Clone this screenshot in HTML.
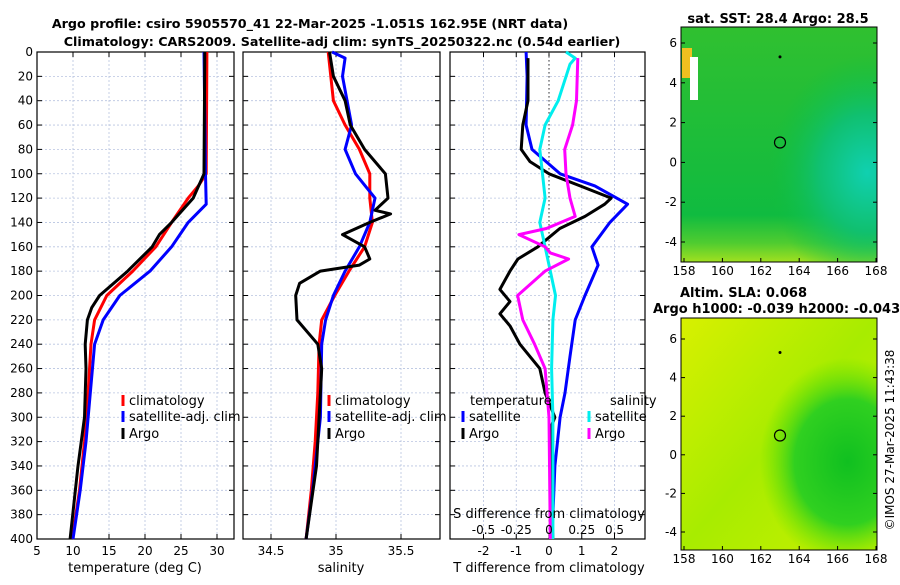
<!DOCTYPE html>
<html><head><meta charset="utf-8"><style>
body{margin:0;background:#fff;width:900px;height:580px;overflow:hidden}
svg{font-family:"DejaVu Sans","Liberation Sans",sans-serif}
</style></head><body>
<svg id="s" width="900" height="580">
<defs>
<radialGradient id="sstTeal" cx="0.95" cy="0.62" r="0.5"><stop offset="0" stop-color="#10d0b0"/><stop offset="0.5" stop-color="#10c070"/><stop offset="1" stop-color="#10c040" stop-opacity="0"/></radialGradient>
<linearGradient id="sstBase" x1="0" y1="0" x2="0" y2="1"><stop offset="0" stop-color="#30c030"/><stop offset="0.8" stop-color="#10bb40"/><stop offset="0.92" stop-color="#50cc30"/><stop offset="1" stop-color="#a0e020"/></linearGradient>
<linearGradient id="slaBase" x1="0" y1="0" x2="1" y2="1"><stop offset="0" stop-color="#d8f000"/><stop offset="0.5" stop-color="#a8ec00"/><stop offset="1" stop-color="#c8f000"/></linearGradient>
<radialGradient id="slaGreen" cx="0.85" cy="0.62" r="0.45"><stop offset="0" stop-color="#10c020"/><stop offset="0.6" stop-color="#30d020"/><stop offset="1" stop-color="#60e000" stop-opacity="0"/></radialGradient>
</defs>
<text x="310" y="28" font-size="12.7" font-weight="bold" text-anchor="middle">Argo profile: csiro 5905570_41 22-Mar-2025 -1.051S 162.95E (NRT data)</text>
<text x="342" y="46" font-size="12.7" font-weight="bold" text-anchor="middle">Climatology: CARS2009. Satellite-adj clim: synTS_20250322.nc (0.54d earlier)</text>
<g id="g"></g>
</svg>
<script>
// ---- data ----
const tClimD=[0,100,110,120,140,160,180,200,220,240,280,320,360,400];
const tClimV=[28.6,28.5,27.4,26,23.7,21.5,18.3,14.7,13,12.5,12.1,11.6,10.9,9.9];
const tSatD=[0,100,125,140,160,180,200,220,240,280,320,360,400];
const tSatV=[28.2,28.4,28.5,26,23.7,20.7,16.5,14.2,13,12.4,11.8,11,10];
const tArgoD=[0,100,120,140,150,160,180,200,210,220,240,260,300,340,400];
const tArgoV=[28.3,28.2,26.7,23.7,22,21,17.6,13.7,12.6,12,11.7,11.8,11.6,10.7,9.6];
const sClimD=[0,40,60,80,100,120,140,160,180,200,220,240,280,320,360,400];
const sClimV=[34.94,34.98,35.07,35.18,35.26,35.26,35.28,35.22,35.1,34.99,34.89,34.87,34.86,34.84,34.81,34.77];
const sSatD=[0,5,20,60,80,100,120,140,160,180,200,220,240,300,360,400];
const sSatV=[34.97,35.07,35.05,35.12,35.07,35.15,35.3,35.26,35.18,35.07,34.98,34.92,34.89,34.88,34.82,34.77];
const sArgoD=[0,20,40,60,80,100,120,130,133,140,150,160,170,175,180,190,200,220,240,260,300,340,400];
const sArgoV=[34.95,34.98,35.07,35.11,35.22,35.38,35.4,35.3,35.42,35.26,35.05,35.22,35.26,35.18,34.88,34.72,34.69,34.7,34.86,34.89,34.87,34.85,34.77];
const dTArgoD=[5,40,60,80,90,100,110,120,125,135,145,155,160,170,180,195,205,215,225,240,260,280,300,310,340,400];
const dTArgoV=[-0.64,-0.64,-0.8,-0.85,-0.58,0,0.95,1.9,1.7,1.1,0.33,-0.12,-0.34,-0.95,-1.19,-1.5,-1.19,-1.5,-1.19,-0.89,-0.28,-0.12,0.18,0.03,0.03,0.12];
const dTSatD=[0,20,60,80,100,110,125,140,160,175,200,220,250,280,300,340,400];
const dTSatV=[-0.7,-0.67,-0.7,-0.52,0.34,1.4,2.4,1.86,1.31,1.5,1.1,0.8,0.64,0.49,0.34,0.18,0.09];
const dSSatD=[0,5,10,40,60,80,100,120,140,160,180,200,220,260,300,400];
const dSSatV=[0.13,0.2,0.16,0.07,-0.03,-0.07,-0.05,-0.03,-0.07,-0.03,0.01,0.05,0.03,0.02,0.03,0.03];
const dSArgoD=[5,40,60,80,100,120,135,145,150,160,165,170,180,200,220,240,260,300,400];
const dSArgoV=[0.22,0.21,0.18,0.12,0.13,0.16,0.2,-0.02,-0.23,-0.03,0.01,0.15,-0.03,-0.24,-0.2,-0.11,-0.03,0,0.01];
const depthTicks=[0,20,40,60,80,100,120,140,160,180,200,220,240,260,280,300,320,340,360,380,400];
const tTicks=[5,10,15,20,25,30];
const sTicks=[34.5,35,35.5];
const dTTicks=[-2,-1,0,1,2];
const dSTicks=[-0.5,-0.25,0,0.25,0.5];
const latTicks=[-4,-2,0,2,4,6];
const lonTicks=[158,160,162,164,166,168];
// ---- helpers ----
const NS="http://www.w3.org/2000/svg",G=document.getElementById('g');
function mk(tag,at,parent){const e=document.createElementNS(NS,tag);for(const k in at)e.setAttribute(k,at[k]);(parent||G).appendChild(e);return e;}
const Y0=52,Y1=539;const yD=d=>Y0+d/400*(Y1-Y0);
const xT=v=>37+(v-5)*7.2;
const xS=v=>271+(v-34.5)*130;
const xDT=v=>549+v*32.75;
const xDS=v=>549+v*131;
function panel(x0,x1,name,xs,ticks,fmt,showDepth){
  const r=mk('rect',{x:x0,y:Y0,width:x1-x0,height:Y1-Y0,fill:'none',stroke:'#000','stroke-width':1.2});
  
  depthTicks.forEach(d=>{const y=yD(d);
    if(d>0&&d<400){const l=mk('line',{x1:x0,x2:x1,y1:y,y2:y,stroke:'#b8c4e0','stroke-width':0.8,'stroke-dasharray':'2,2'});}
    mk('line',{x1:x0,x2:x0+5,y1:y,y2:y,stroke:'#000'});mk('line',{x1:x1-5,x2:x1,y1:y,y2:y,stroke:'#000'});
    if(showDepth){const t=mk('text',{x:x0-4,y:y+4,'font-size':12,'text-anchor':'end'});t.textContent=d;}
  });
  ticks.forEach(v=>{const x=xs(v);
    if(x>x0+1&&x<x1-1){const l=mk('line',{x1:x,x2:x,y1:Y0,y2:Y1,stroke:'#b8c4e0','stroke-width':0.8,'stroke-dasharray':'2,2'});}
    mk('line',{x1:x,x2:x,y1:Y1-5,y2:Y1,stroke:'#000'});mk('line',{x1:x,x2:x,y1:Y0,y2:Y0+5,stroke:'#000'});
    if(fmt){const t=mk('text',{x:x,y:555,'font-size':12,'text-anchor':'middle'});t.textContent=fmt(v);}
  });
}
function line(D,V,xs,col,name){
  const p=D.map((d,i)=>xs(V[i]).toFixed(1)+','+yD(d).toFixed(1)).join(' ');
  const e=mk('polyline',{points:p,fill:'none',stroke:col,'stroke-width':3,'stroke-linejoin':'round'});
  
}
function txt(x,y,s,name,size,anchor,extra){const t=mk('text',Object.assign({x:x,y:y,'font-size':size||13,'text-anchor':anchor||'start'},extra||{}));t.textContent=s;return t;}
function leg(x,y,col,label,name){const l=mk('line',{x1:x,x2:x,y1:y-10,y2:y+1,stroke:col,'stroke-width':3});txt(x+6,y,label,name+'-label');}
// ---- panel 1 ----
panel(37,234,'temperature-panel',xT,tTicks,v=>v,true);
line(tClimD,tClimV,xT,'#ff0000','temp-climatology-line');
line(tSatD,tSatV,xT,'#0000ff','temp-satellite-line');
line(tArgoD,tArgoV,xT,'#000000','temp-argo-line');
txt(135,572,'temperature (deg C)','temperature-x-axis-title',13,'middle');
leg(123,405,'#ff0000','climatology','legend-climatology');
leg(123,421,'#0000ff','satellite-adj. clim','legend-satellite');
leg(123,438,'#000','Argo','legend-argo');
// ---- panel 2 ----
panel(243,440,'salinity-panel',xS,sTicks,v=>v,false);
line(sClimD,sClimV,xS,'#ff0000','sal-climatology-line');
line(sSatD,sSatV,xS,'#0000ff','sal-satellite-line');
line(sArgoD,sArgoV,xS,'#000000','sal-argo-line');
txt(341,572,'salinity','salinity-x-axis-title',13,'middle');
leg(329,405,'#ff0000','climatology','legend2-climatology');
leg(329,421,'#0000ff','satellite-adj. clim','legend2-satellite');
leg(329,438,'#000','Argo','legend2-argo');
// ---- panel 3 ----
panel(450,645,'difference-panel',xDT,dTTicks,v=>v,false);
const z=mk('line',{x1:549,x2:549,y1:Y0,y2:Y1,stroke:'#333','stroke-dasharray':'1.5,2.5'});
line(dTSatD,dTSatV,xDT,'#0000ff','dT-satellite-line');
line(dTArgoD,dTArgoV,xDT,'#000000','dT-argo-line');
line(dSSatD,dSSatV,xDS,'#00eeee','dS-satellite-line');
line(dSArgoD,dSArgoV,xDS,'#ff00ff','dS-argo-line');
dSTicks.forEach(v=>txt(xDS(v),534,String(v),'dS-tick-label',12,'middle'));
txt(549,518,'S difference from climatology','dS-axis-title',13,'middle');
txt(549,572,'T difference from climatology','dT-axis-title',13,'middle');
txt(470,405,'temperature','legend3-temperature-header');
txt(610,405,'salinity','legend3-salinity-header');
leg(463,421,'#0000ff','satellite','legend3-t-satellite');
leg(463,438,'#000','Argo','legend3-t-argo');
leg(589,421,'#00eeee','satellite','legend3-s-satellite');
leg(589,438,'#ff00ff','Argo','legend3-s-argo');
// ---- maps ----
function map(y0,y1,lat6,pxPerDeg,name,fills){
  const x0=681,x1=877;const lx=v=>684+(v-158)*19.2;const ly=v=>lat6+(6-v)*pxPerDeg;
  fills.forEach(f=>{const r=mk('rect',{x:x0,y:y0,width:x1-x0,height:y1-y0,fill:f});});
  const fr=mk('rect',{x:x0,y:y0,width:x1-x0,height:y1-y0,fill:'none',stroke:'#000'});
  latTicks.forEach(v=>{const y=ly(v);mk('line',{x1:x0,x2:x0+4,y1:y,y2:y,stroke:'#000'});mk('line',{x1:x1-4,x2:x1,y1:y,y2:y,stroke:'#000'});txt(x0-4,y+4,v,name+'-lat-label',12,'end');});
  lonTicks.forEach(v=>{const x=lx(v);mk('line',{x1:x,x2:x,y1:y1-4,y2:y1,stroke:'#000'});txt(x,y1+13,v,name+'-lon-label',12,'middle');});
  const c=mk('circle',{cx:lx(163),cy:ly(1),r:5.5,fill:'none',stroke:'#000','stroke-width':1.2});
  const d=mk('circle',{cx:lx(163),cy:ly(5.3),r:1.5,fill:'#000'});
}
map(27,262,43,19.9,'sst-map',['url(#sstBase)','url(#sstTeal)']);
const o1=mk('rect',{x:682,y:48,width:10,height:30,fill:'#f0c020'});
const w1=mk('rect',{x:690,y:57,width:8,height:43,fill:'#fff'});
map(318,550,339,19.3,'sla-map',['url(#slaBase)','url(#slaGreen)']);
txt(778,23,'sat. SST: 28.4  Argo: 28.5','sst-map-title',13,'middle',{'font-weight':'bold'});
txt(680,297,'Altim. SLA: 0.068','sla-map-title',13,'start',{'font-weight':'bold'});
txt(653,313,'Argo h1000: -0.039 h2000: -0.043','sla-map-subtitle',13,'start',{'font-weight':'bold'});
txt(0,0,'©IMOS 27-Mar-2025 11:43:38','timestamp',12,'middle',{transform:'translate(894,440) rotate(-90)'});
</script>
</body></html>
